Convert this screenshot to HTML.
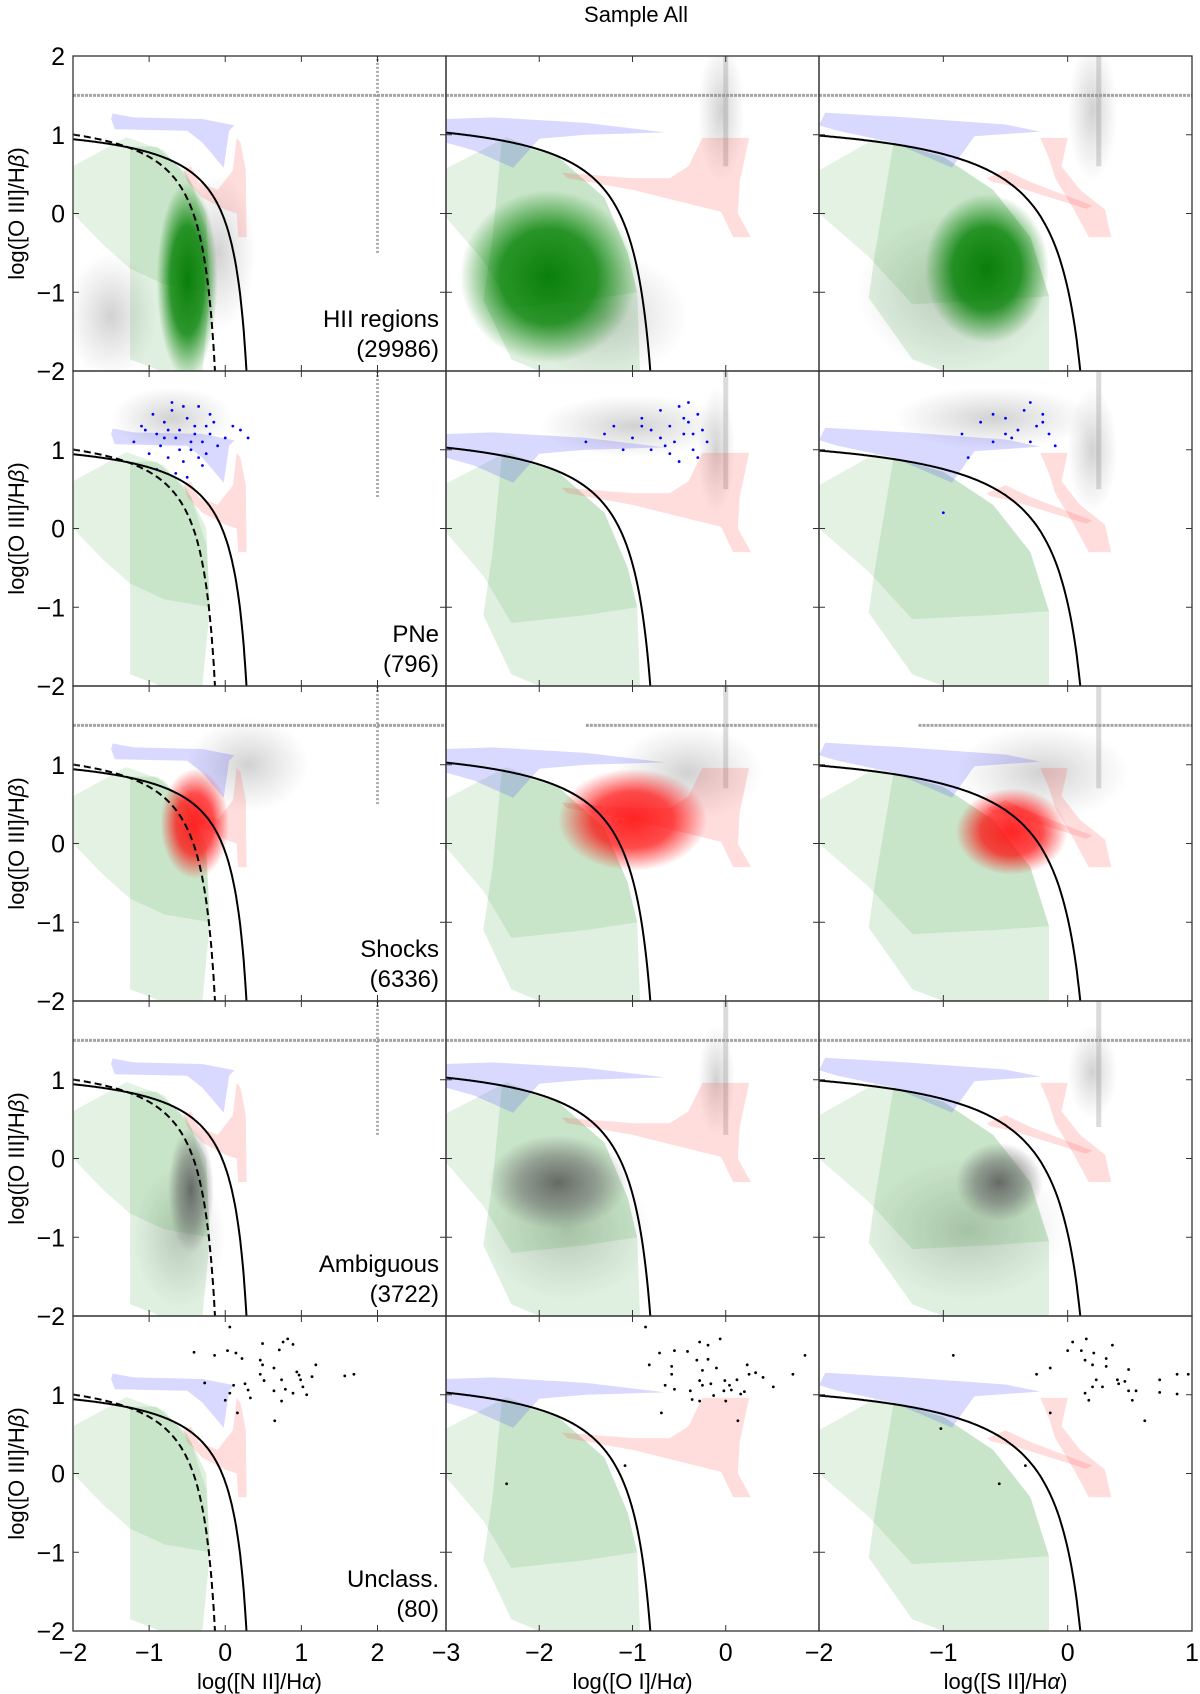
<!DOCTYPE html>
<html><head><meta charset="utf-8"><style>
body{margin:0;background:#fff}
svg{display:block;font-family:"Liberation Sans","DejaVu Sans",sans-serif}
</style></head><body>
<svg id="fig" width="1200" height="1694" viewBox="0 0 1200 1694" xmlns="http://www.w3.org/2000/svg">
<defs>
<radialGradient id="gGreen"><stop offset="0" stop-color="#007a00" stop-opacity="0.95"/><stop offset="0.55" stop-color="#008000" stop-opacity="0.8"/><stop offset="1" stop-color="#008000" stop-opacity="0"/></radialGradient>
<radialGradient id="gRed"><stop offset="0" stop-color="#ff1a1a" stop-opacity="0.95"/><stop offset="0.55" stop-color="#ff0000" stop-opacity="0.7"/><stop offset="1" stop-color="#ff0000" stop-opacity="0"/></radialGradient>
<radialGradient id="gDark"><stop offset="0" stop-color="#555" stop-opacity="0.85"/><stop offset="0.55" stop-color="#666" stop-opacity="0.55"/><stop offset="1" stop-color="#666" stop-opacity="0"/></radialGradient>
<radialGradient id="gGray"><stop offset="0" stop-color="#999" stop-opacity="0.45"/><stop offset="1" stop-color="#aaa" stop-opacity="0"/></radialGradient>
</defs>
<text x="636" y="22" text-anchor="middle" font-size="22">Sample All</text>
</svg>
<script>
// ---- data ----
const colXMin=[-2,-3,-2];
const colXMax=[2.9,1,1];
const colXTicks=[[-2,-1,0,1,2],[-3,-2,-1,0],[-2,-1,0,1]];
const colXLabels=["log([N II]/H","log([O I]/H","log([S II]/H"];
const rowLabels=["HII regions","PNe","Shocks","Ambiguous","Unclass."];
const rowCounts=["(29986)","(796)","(6336)","(3722)","(80)"];
const yTicks=[-2,-1,0,1,2];
const kewleyA=[0.61,0.73,0.72], kewleyB=[0.47,-0.59,0.32], kewleyC=[1.19,1.33,1.30];
const kauffA=0.61, kauffB=0.05, kauffC=1.3;
const greenP1=[
 [[-2,0.6],[-1.3,0.97],[-0.8,0.8],[-0.45,0.4],[-0.25,-0.2],[-0.2,-1.0],[-0.8,-0.9],[-1.25,-0.7],[-1.6,-0.4],[-2,0.0]],
 [[-3,0.57],[-2.35,0.97],[-1.8,0.72],[-1.3,0.2],[-1.05,-0.5],[-0.95,-1.0],[-1.5,-1.1],[-2.3,-1.2],[-2.6,-0.6],[-3,-0.05]],
 [[-2,0.55],[-1.55,0.95],[-1.0,0.72],[-0.6,0.3],[-0.3,-0.3],[-0.15,-1.05],[-0.6,-1.1],[-1.25,-1.15],[-1.6,-0.55],[-2,0]]];
const greenP2=[
 [[-1.25,0.85],[-0.9,0.85],[-0.5,0.5],[-0.25,0.0],[-0.2,-1.0],[-0.3,-2],[-0.85,-2],[-1.25,-1.85]],
 [[-2.4,0.93],[-1.8,0.72],[-1.3,0.2],[-1.05,-0.5],[-0.95,-1.0],[-0.92,-2],[-2.0,-2],[-2.3,-1.85],[-2.6,-1.1],[-2.5,-0.3]],
 [[-1.4,0.9],[-1.0,0.72],[-0.6,0.3],[-0.3,-0.3],[-0.15,-1.05],[-0.15,-2],[-1.0,-2],[-1.25,-1.85],[-1.6,-1.07],[-1.55,-0.5]]];
const bluePoly=[
 [[-1.48,1.27],[-1.2,1.22],[-0.3,1.2],[0.12,1.12],[0.05,1.05],[-0.02,0.58],[-0.3,0.9],[-0.5,1.05],[-1.45,1.07],[-1.5,1.2]],
 [[-3,1.2],[-2.5,1.22],[-1.5,1.15],[-0.65,1.03],[-1.5,1.0],[-2.0,0.95],[-2.28,0.58],[-2.7,0.8],[-3,0.9]],
 [[-2,1.12],[-1.95,1.28],[-1.3,1.22],[-0.5,1.13],[-0.22,1.04],[-0.75,0.98],[-0.93,0.58],[-1.4,0.9],[-1.85,1.05]]];
const redPoly=[
 [[-0.55,0.55],[-0.45,0.6],[-0.35,0.4],[-0.1,0.3],[0.1,0.55],[0.15,0.96],[0.2,0.9],[0.27,0.55],[0.28,-0.3],[0.17,-0.3],[0.15,0.0],[0.0,0.05],[-0.3,0.2],[-0.5,0.4]],
 [[-1.76,0.52],[-1.0,0.45],[-0.6,0.45],[-0.4,0.6],[-0.25,0.96],[0.25,0.96],[0.15,0.4],[0.13,0.0],[0.27,-0.3],[0.08,-0.3],[-0.05,0.02],[-1.0,0.3],[-1.7,0.45]],
 [[-0.22,0.96],[0.0,0.96],[-0.05,0.6],[0.1,0.3],[0.3,0.05],[0.35,-0.3],[0.17,-0.3],[0.05,0.05],[-0.1,0.45],[-0.15,0.7]]];
const redPoly2=[[],[],[[-0.65,0.45],[-0.5,0.55],[-0.3,0.4],[0.2,0.1],[0.15,0.06],[-0.4,0.33],[-0.62,0.41]]];
const hBandStart=[[-2,-3,-2],[null,null,null],[-2,-1.5,-1.2],[-2,-3,-2],[null,null,null]];
const vBandX=[2,0,0.25];
const vBandRange=[[[-0.5,2],[0.6,2],[0.6,2]],[[0.4,2],[0.5,2],[0.5,2]],[[0.5,2],[0.7,2],[0.7,2]],[[0.3,2],[0.3,2],[0.4,2]],[null,null,null]];
const grayClouds=[
 [[[-1.5,-1.3,0.6,0.8],[-0.1,-0.5,0.5,1.0]],[[-1.3,-1.3,0.9,0.8],[-0.05,1.3,0.25,0.9]],[[-0.9,-1.0,0.8,1.0],[0.2,1.3,0.2,0.9]]],
 [[[-0.7,1.4,0.8,0.4]],[[-1.0,1.3,1.0,0.4],[-0.1,1.0,0.2,0.8]],[[-0.6,1.4,0.8,0.4],[0.2,1.0,0.2,0.8]]],
 [[[0.3,1.0,0.8,0.6]],[[-0.4,0.9,0.8,0.6]],[[-0.2,0.9,0.7,0.6]]],
 [[[-0.6,-1.0,0.6,0.9]],[[-1.7,-0.9,0.9,0.9],[-0.1,1.0,0.2,0.7]],[[-0.8,-0.9,0.8,0.9],[0.2,1.1,0.2,0.6]]],
 [[],[],[]]];
const popClouds=[
 [[-0.5,-0.85,0.4,1.25],[-1.9,-0.8,0.95,1.1],[-0.65,-0.7,0.5,0.95]],
 [null,null,null],
 [[-0.4,0.25,0.45,0.7],[-1.0,0.3,0.8,0.65],[-0.45,0.15,0.45,0.55]],
 [[-0.45,-0.4,0.3,0.8],[-1.8,-0.3,0.75,0.6],[-0.55,-0.3,0.35,0.5]],
 [null,null,null]];
const popGrad=["gGreen",null,"gRed","gDark",null];
const pneX1=[-1.2,-1.1,-1.0,-0.95,-0.9,-0.85,-0.8,-0.75,-0.7,-0.65,-0.6,-0.55,-0.5,-0.45,-0.4,-0.35,-0.3,-0.25,-0.2,-0.15,-0.1,0.0,0.1,0.2,-0.9,-0.7,-0.5,-0.3,-0.6,-0.4,-0.8,-1.05,-0.2,0.3,-0.55,-0.35,-0.65,-0.45,-0.75,-0.25];
const pneY1=[1.1,1.3,0.95,1.45,1.2,1.05,1.35,0.9,1.5,1.15,1.25,0.85,1.4,1.0,1.3,1.55,1.1,0.95,1.2,1.35,1.05,1.15,1.3,1.25,0.75,1.6,0.65,0.8,1.0,1.2,1.15,1.25,1.45,1.15,1.55,0.9,0.7,1.1,1.25,1.3];
const pneX2=[-1.5,-1.3,-1.2,-1.0,-0.9,-0.8,-0.7,-0.6,-0.55,-0.5,-0.45,-0.4,-0.35,-0.3,-0.25,-0.2,-0.6,-0.8,-0.5,-0.4,-0.3,-0.7,-1.1,-0.9,-0.45,-0.35,-0.65];
const pneY2=[1.1,1.2,1.3,1.15,1.4,1.25,1.5,1.3,1.1,1.55,1.2,1.35,1.0,1.45,1.25,1.1,0.95,1.0,0.85,1.6,0.9,1.15,1.0,1.3,1.4,1.2,1.05];
const pneX3=[-0.85,-0.7,-0.6,-0.5,-0.4,-0.35,-0.3,-0.25,-0.2,-0.15,-0.1,-0.5,-0.3,-0.6,-0.2,-0.45,-0.8,-1.0];
const pneY3=[1.2,1.35,1.1,1.4,1.25,1.5,1.1,1.3,1.45,1.2,1.05,1.2,1.6,1.45,1.35,1.15,0.9,0.2];
const uncX1=[0.06,-0.41,-0.14,0.03,0.14,0.22,0.49,0.46,0.49,0.64,0.71,0.76,0.82,0.89,0.46,0.94,0.97,1.19,1.14,0.74,0.51,0.26,0.11,0.06,0.0,0.30,0.33,0.64,0.79,0.89,0.74,1.02,1.07,0.65,0.16,-0.27,1.57,1.69,0.99];
const uncY1=[1.86,1.54,1.5,1.56,1.53,1.46,1.65,1.44,1.38,1.34,1.57,1.67,1.71,1.64,1.26,1.29,1.25,1.38,1.23,1.19,1.18,1.14,1.12,1.02,0.93,1.06,0.96,1.05,1.07,1.02,0.92,1.1,1.0,0.67,0.77,1.15,1.24,1.26,1.19];
const uncX2=[-0.86,-0.71,-0.55,-0.41,-0.28,-0.19,-0.06,-0.31,-0.19,-0.82,-0.58,-0.58,-0.25,-0.1,0.23,0.25,0.32,0.4,0.72,-0.28,-0.16,-0.01,0.04,0.12,-0.65,-0.55,-0.38,-0.25,-0.13,-0.02,0.06,0.16,0.2,-0.36,-0.28,0.0,0.51,-0.69,0.13,-1.08,0.85,-2.35];
const uncY2=[1.86,1.53,1.56,1.55,1.67,1.63,1.71,1.44,1.45,1.38,1.36,1.26,1.31,1.34,1.38,1.26,1.28,1.22,1.26,1.18,1.14,1.18,1.12,1.19,1.12,1.07,1.05,1.12,0.99,1.05,1.06,1.01,1.04,0.94,0.92,0.92,1.1,0.77,0.67,0.1,1.5,-0.13];
const uncX3=[0.04,0.15,0.36,0.0,0.11,0.21,0.14,0.31,-0.92,-0.14,-0.25,0.2,0.31,0.49,0.23,0.4,0.46,0.2,0.28,0.41,0.49,0.55,0.14,0.17,0.52,0.74,0.74,0.88,0.88,0.97,0.62,-0.14,-1.02,-0.34,-0.55];
const uncY3=[1.67,1.71,1.63,1.56,1.56,1.53,1.44,1.46,1.5,1.34,1.26,1.38,1.36,1.32,1.19,1.19,1.17,1.1,1.1,1.14,1.05,1.05,1.02,0.93,0.93,1.19,1.03,1.26,1.01,1.26,0.67,0.77,0.57,0.1,-0.13];
const pneXs=[pneX1,pneX2,pneX3], pneYs=[pneY1,pneY2,pneY3];
const uncXs=[uncX1,uncX2,uncX3], uncYs=[uncY1,uncY2,uncY3];

const L=73, PW=373, T=56, PH=315, YMIN=-2, YMAX=2;
const NS="http://www.w3.org/2000/svg";
const svg=document.getElementById('fig');
function mk(tag,attrs,parent){const e=document.createElementNS(NS,tag);for(const k in attrs)e.setAttribute(k,attrs[k]);(parent||svg).appendChild(e);return e;}
function xS(c,v){return L+c*PW+(v-colXMin[c])/(colXMax[c]-colXMin[c])*PW;}
function yS(r,v){return T+r*PH+(YMAX-v)/(YMAX-YMIN)*PH;}
function polyStr(c,r,pts){return pts.map(p=>xS(c,p[0]).toFixed(1)+','+yS(r,p[1]).toFixed(1)).join(' ');}

for(let r=0;r<5;r++){for(let c=0;c<3;c++){
  const g=mk('g',{});
  
  
  const cid='clip'+r+c;
  const cp=mk('clipPath',{id:cid},g);
  mk('rect',{x:xS(c,colXMin[c]),y:T+r*PH,width:PW,height:PH},cp);
  const inner=mk('g',{'clip-path':'url(#'+cid+')'},g);
  grayClouds[r][c].forEach(cl=>{
    const e=mk('ellipse',{cx:xS(c,cl[0]),cy:yS(r,cl[1]),rx:cl[2]/(colXMax[c]-colXMin[c])*PW,ry:cl[3]/4*PH,fill:'url(#gGray)'},inner);
    
    
  });
  if(hBandStart[r][c]!==null){
    const l=mk('line',{x1:xS(c,hBandStart[r][c]),x2:xS(c,colXMax[c]),y1:yS(r,1.5),y2:yS(r,1.5),stroke:'#888','stroke-width':3,'stroke-dasharray':'3 1','opacity':0.75},inner);
    
    
  }
  if(vBandRange[r][c]){
    const l=mk('line',{x1:xS(c,vBandX[c]),x2:xS(c,vBandX[c]),y1:yS(r,vBandRange[r][c][0]),y2:yS(r,vBandRange[r][c][1]),stroke:'#999','stroke-width':c===0?3:5,'stroke-dasharray':c===0?'2 2':'none','opacity':c===0?0.8:0.35},inner);
    
    
  }
  [[greenP1[c],'#2e9b2e',0.13],[greenP2[c],'#2e9b2e',0.15],[bluePoly[c],'#4040ff',0.2],[redPoly[c],'#ff4040',0.18],[redPoly2[c],'#ff4040',0.18]].forEach((pp,i)=>{
    if(!pp[0].length)return;
    const p=mk('polygon',{points:polyStr(c,r,pp[0]),fill:pp[1],'fill-opacity':pp[2]},inner);
    
    
  });
  const pc=popClouds[r][c];
  if(pc){
    const e=mk('ellipse',{cx:xS(c,pc[0]),cy:yS(r,pc[1]),rx:pc[2]/(colXMax[c]-colXMin[c])*PW,ry:pc[3]/4*PH,fill:'url(#'+popGrad[r]+')'},inner);
    
    
  }
  if(r===1||r===4){
    const xs=r===1?pneXs[c]:uncXs[c], ys=r===1?pneYs[c]:uncYs[c];
    xs.forEach((v,i)=>{
      const d=mk('circle',{cx:xS(c,v),cy:yS(r,ys[i]),r:1.4,fill:r===1?'#0000ff':'#000'},inner);
      
      
    });
  }
  let ds='';
  for(let k=0;k<=300;k++){
    const x=colXMin[c]+k/300*((kewleyB[c]-0.61/(kewleyC[c]+2.5))-colXMin[c]);
    const y=kewleyA[c]/(x-kewleyB[c])+kewleyC[c];
    ds+=(k?'L':'M')+xS(c,x).toFixed(1)+','+yS(r,y).toFixed(1);
  }
  const cu=mk('path',{d:ds,fill:'none',stroke:'#000','stroke-width':2},inner);
  
  
  if(c===0){
    let dk='';
    for(let k=0;k<=300;k++){
      const x=colXMin[0]+k/300*((kauffB-kauffA/(kauffC+2.5))-colXMin[0]);
      const y=kauffA/(x-kauffB)+kauffC;
      dk+=(k?'L':'M')+xS(0,x).toFixed(1)+','+yS(r,y).toFixed(1);
    }
    const kd=mk('path',{d:dk,fill:'none',stroke:'#000','stroke-width':2,'stroke-dasharray':'7 4'},inner);
    
    
  }
  const fr=mk('rect',{x:xS(c,colXMin[c]),y:T+r*PH,width:PW,height:PH,fill:'none',stroke:'#333','stroke-width':1.3},g);
  
  
  colXTicks[c].forEach(t=>{
    if(t===colXMin[c])return;
    const x=xS(c,t);
    mk('line',{x1:x,x2:x,y1:T+r*PH,y2:T+r*PH+6,stroke:'#333'},g);
    mk('line',{x1:x,x2:x,y1:T+(r+1)*PH,y2:T+(r+1)*PH-6,stroke:'#333'},g);
  });
  yTicks.forEach(t=>{
    if(t===YMIN||t===YMAX)return;
    const y=yS(r,t);
    mk('line',{x1:xS(c,colXMin[c]),x2:xS(c,colXMin[c])+6,y1:y,y2:y,stroke:'#333'},g);
    mk('line',{x1:xS(c,colXMin[c])+PW,x2:xS(c,colXMin[c])+PW-6,y1:y,y2:y,stroke:'#333'},g);
  });
  if(r===4){
    colXTicks[c].forEach(t=>{
      const tl=mk('text',{x:xS(c,t),y:1661,'text-anchor':'middle','font-size':25},g);
      tl.textContent=(t<0?'\u2212':'')+Math.abs(t);
      
      
    });
    const xl=mk('text',{x:L+c*PW+PW/2,y:1689,'text-anchor':'middle','font-size':22},g);
    xl.textContent=colXLabels[c];
    const ts=mk('tspan',{'font-style':'italic'},xl);ts.textContent='\u03b1';
    const ts2=mk('tspan',{},xl);ts2.textContent=')';
    
    
  }
  if(c===0){
    yTicks.forEach(t=>{
      if(t===YMAX&&r>0)return;
      const tl=mk('text',{x:65,y:yS(r,t)+9,'text-anchor':'end','font-size':25},g);
      tl.textContent=(t<0?'\u2212':'')+Math.abs(t);
      
      
    });
    const cy=T+r*PH+PH/2;
    const yl=mk('text',{x:0,y:0,'text-anchor':'middle','font-size':22,transform:'translate(24,'+cy+') rotate(-90)'},g);
    yl.textContent='log([O III]/H';
    const b=mk('tspan',{'font-style':'italic'},yl);b.textContent='\u03b2';
    const b2=mk('tspan',{},yl);b2.textContent=')';
    
    
    const n1=mk('text',{x:439,y:T+r*PH+PH-44,'text-anchor':'end','font-size':24},g);
    n1.textContent=rowLabels[r];
    
    
    const n2=mk('text',{x:439,y:T+r*PH+PH-14,'text-anchor':'end','font-size':24},g);
    n2.textContent=rowCounts[r];
    
    
  }
}}
</script>
</body></html>
